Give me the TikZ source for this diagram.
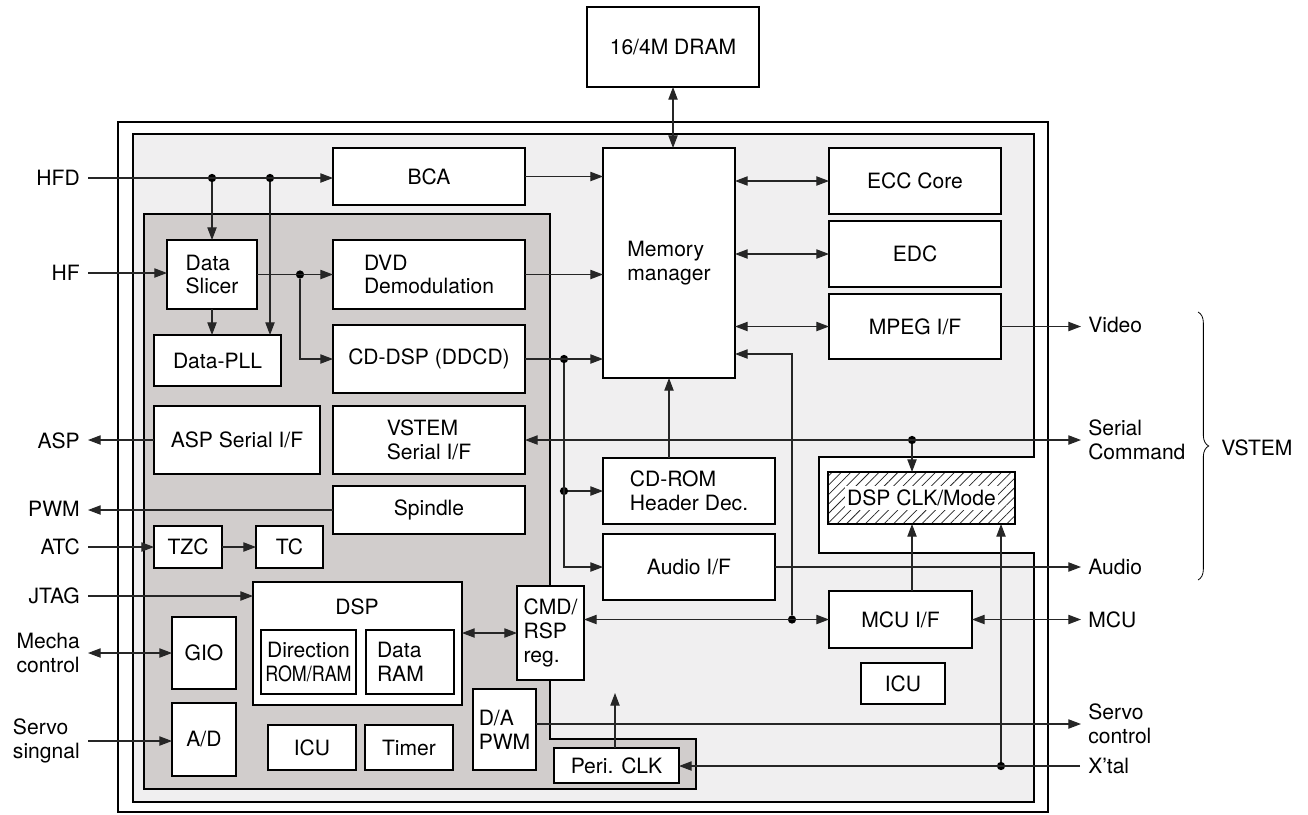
\documentclass[tikz,border=0pt]{standalone}
\usepackage{fontspec}
\usepackage{graphicx}
\setmainfont{TeX Gyre Heros}
\usetikzlibrary{arrows.meta,patterns.meta,decorations.pathreplacing}
\definecolor{lg}{RGB}{240,239,240}
\definecolor{dg}{RGB}{209,205,204}
\newcommand\blk[7][box]{\node[#1,minimum width={(#5-#3)*0.75pt},minimum height={(#6-#4)*0.75pt}] (#2) at ({(#3+#5)/2},{(#4+#6)/2}) {#7};}
\begin{document}
\begin{tikzpicture}[x=0.75pt,y=-0.75pt,
  font=\fontsize{15.8}{17.8}\selectfont,
  box/.style={draw=black,line width=1.1pt,fill=white,inner sep=0pt,outer sep=0pt,align=center},
  lbox/.style={box,align=left},
  hbox/.style={draw=black,line width=1.1pt,inner sep=0pt,outer sep=0pt,preaction={fill=white},pattern={Lines[angle=45,distance=5pt,line width=0.55pt]},pattern color=black!85},
  con/.style={draw=black!85,line width=0.8pt},
  arr/.style={con,-{Triangle[length=9.5pt,width=7pt]}},
  darr/.style={con,{Triangle[length=9.5pt,width=7pt]}-{Triangle[length=9.5pt,width=7pt]}},
  dot/.style={circle,fill=black,inner sep=0pt,minimum size=6.2pt},
  lbl/.style={inner sep=0pt,align=left},
]
\useasboundingbox (0,0) rectangle (1308,814);
% regions
\draw[line width=1.4pt] (118,122) rectangle (1048,812);
\filldraw[fill=lg,draw=black,line width=1.1pt] (133,134) -- (1034,134) -- (1034,457) -- (819,457) -- (819,553) -- (1034,553) -- (1034,802) -- (133,802) -- cycle;
\filldraw[fill=dg,draw=black,line width=1.1pt] (144,214) -- (550,214) -- (550,739) -- (696,739) -- (696,789) -- (144,789) -- cycle;
% blocks
\blk{dram}{587}{7}{759}{87}{16/4M DRAM}
\blk{bca}{333}{148}{525}{205}{BCA}
\blk[lbox]{mm}{603}{148}{735}{378}{Memory\\manager}
\blk{ecc}{829}{148}{1001}{214}{ECC Core}
\blk{edc}{829}{221}{1001}{287}{EDC}
\blk{mpeg}{829}{294}{1001}{359}{MPEG I/F}
\blk[lbox]{ds}{167}{240}{257}{309}{Data\\Slicer}
\blk[lbox]{dvd}{333}{240}{525}{309}{DVD\\Demodulation}
\blk{pll}{154}{335}{281}{386}{Data-PLL}
\blk{cddsp}{333}{325}{525}{393}{CD-DSP (DDCD)}
\blk{asp}{154}{406}{320}{474}{ASP Serial I/F}
\blk[lbox]{vsi}{333}{406}{525}{474}{VSTEM\\Serial I/F}
\blk{spin}{333}{486}{525}{534}{Spindle}
\blk{tzc}{154}{526}{222}{568}{TZC}
\blk{tc}{256}{526}{323}{568}{TC}
\blk{dsp}{253}{582}{462}{705}{}
\node[lbl] (dsplbl) at (357,607) {DSP};
\blk{dir}{261}{630}{356}{694}{Direction\\\scalebox{0.85}[1]{ROM/RAM}}
\blk[lbox,text width=49.5pt]{dram2}{366}{630}{454}{694}{Data\\RAM}
\blk{gio}{172}{617}{236}{689}{GIO}
\blk{ad}{172}{703}{236}{776}{A/D}
\blk{icua}{268}{725}{356}{770}{ICU}
\blk{timer}{365}{725}{453}{770}{Timer}
\blk[lbox]{cmd}{517}{586}{584}{680}{CMD/\\RSP\\reg.}
\blk[lbox]{da}{473}{689}{536}{770}{D/A\\PWM}
\blk{peri}{554}{748}{679}{783}{Peri. CLK}
\blk[lbox]{cdrom}{603}{458}{775}{524}{CD-ROM\\Header Dec.}
\blk{audio}{603}{534}{775}{600}{Audio I/F}
\blk[hbox]{clk}{828}{472}{1015}{524}{}
\node[fill=white,inner xsep=1.5pt,inner ysep=3pt] (clklbl) at (clk.center) {DSP CLK/Mode};
\blk{mcuif}{829}{591}{972}{648}{MCU I/F}
\blk{icub}{861}{663}{945}{704}{ICU}
% labels left
\node[lbl,anchor=east] (hfd) at (80,178) {HFD};
\node[lbl,anchor=east] (hf) at (80,273) {HF};
\node[lbl,anchor=east] (aspl) at (80,441) {ASP};
\node[lbl,anchor=east] (pwml) at (80,509) {PWM};
\node[lbl,anchor=east] (atcl) at (80,547) {ATC};
\node[lbl,anchor=east] (jtagl) at (80,596) {JTAG};
\node[lbl,anchor=east] (mechl) at (80,653) {Mecha\\control};
\node[lbl,anchor=east] (servl) at (80,741) {Servo\\singnal};
% labels right
\node[lbl,anchor=west] (video) at (1088,325) {Video};
\node[lbl,anchor=west] (serc) at (1088,440) {Serial\\Command};
\node[lbl,anchor=west] (audl) at (1088,567) {Audio};
\node[lbl,anchor=west] (mcul) at (1088,620) {MCU};
\node[lbl,anchor=west] (servc) at (1088,724) {Servo\\control};
\node[lbl,anchor=west] (xtal) at (1088,766) {X'tal};
\node[lbl,anchor=west] (vstem) at (1221,448) {VSTEM};
% dots
\node[dot] (d1) at (212,178) {};
\node[dot] (d2) at (270,178) {};
\node[dot] (d3) at (300,274.5) {};
\node[dot] (d4) at (564,359) {};
\node[dot] (d5) at (564,491) {};
\node[dot] (d6) at (792,619.5) {};
\node[dot] (d7) at (912,440) {};
\node[dot] (d8) at (1001,766) {};
\coordinate (mmin) at (735,354);
\coordinate (pup) at (615,693);
% connectors
\draw[darr] (dram.south) -- (dram.south |- mm.north);
\draw[arr] ([xshift=6pt]hfd.east) -- (hfd -| bca.west);
\draw[arr] (d1) -- (d1 |- ds.north);
\draw[arr] (d2) -- (d2 |- pll.north);
\draw[arr] ([xshift=6pt]hf.east) -- (hf -| ds.west);
\draw[arr] (ds.south) -- (ds.south |- pll.north);
\draw[arr] (ds.east) -- (dvd.west);
\draw[arr] (d3) |- (cddsp.west);
\draw[arr] (bca.east) -- (bca.east -| mm.west);
\draw[arr] (dvd.east) -- (dvd.east -| mm.west);
\draw[arr] (cddsp.east) -- (cddsp.east -| mm.west);
\draw[arr] (d4) |- (audio.west);
\draw[arr] (d5) -- (cdrom.west);
\draw[darr] (mm.east |- ecc.west) -- (ecc.west);
\draw[darr] (mm.east |- edc.west) -- (edc.west);
\draw[darr] (mm.east |- mpeg.west) -- (mpeg.west);
\draw[arr,shorten >=5.25pt] (mpeg.east) -- (mpeg.east -| video.west);
\draw[arr] (mm.south |- cdrom.north) -- (mm.south);
\draw[darr] (cmd.east |- mcuif.west) -- (mcuif.west);
\draw[arr] (d6) |- (mmin);
\draw[darr] (dsp.east |- cmd.west) -- (cmd.west);
\draw[darr,shorten >=5.25pt] (vsi.east) -- (vsi.east -| serc.west);
\draw[arr] (d7) -- (d7 |- clk.north);
\draw[arr] (mcuif.north -| d7) -- (d7 |- clk.south);
\draw[arr,shorten >=5.25pt] (audio.east) -- (audio.east -| audl.west);
\draw[darr,shorten >=5.25pt] (mcuif.east) -- (mcuif.east -| mcul.west);
\draw[arr,shorten >=5.25pt] (da.east |- servc.west) -- (servc.west);
\draw[arr] ([xshift=-6pt]xtal.west) -- (xtal -| peri.east);
\draw[arr] (d8) -- (d8 |- clk.south);
\draw[arr] (peri.north -| pup) -- (pup);
\draw[arr] (asp.west) -- ([xshift=6pt]aspl.east |- asp.west);
\draw[arr] (spin.west) -- ([xshift=6pt]pwml.east |- spin.west);
\draw[arr] ([xshift=6pt]atcl.east) -- (atcl -| tzc.west);
\draw[arr] (tzc.east) -- (tc.west);
\draw[arr] ([xshift=6pt]jtagl.east) -- (jtagl -| dsp.west);
\draw[darr] ([xshift=6pt]mechl.east) -- (mechl -| gio.west);
\draw[arr] ([xshift=6pt]servl.east) -- (servl -| ad.west);
% brace
\draw[line width=0.6pt,decorate,decoration={brace,amplitude=8pt}] (1198,312) -- (1198,580);
\end{tikzpicture}
\end{document}
